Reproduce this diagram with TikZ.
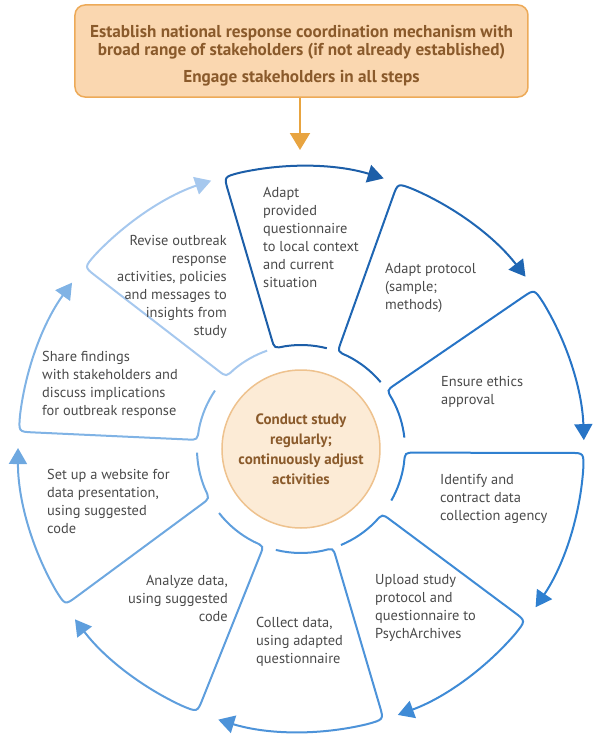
\documentclass[tikz,border=0pt]{standalone}
\usepackage{fontspec}
\setmainfont{PT Sans}
\usetikzlibrary{arrows.meta,calc}
\definecolor{c1}{HTML}{1C5EA8}
\definecolor{c2}{HTML}{1F66B3}
\definecolor{c3}{HTML}{2774C6}
\definecolor{c4}{HTML}{2F80D0}
\definecolor{c5}{HTML}{3F8BD6}
\definecolor{c6}{HTML}{4D93D9}
\definecolor{c7}{HTML}{5E9EDD}
\definecolor{c8}{HTML}{6EA8E0}
\definecolor{c9}{HTML}{80B3E5}
\definecolor{c10}{HTML}{A6C8EE}
\definecolor{textgray}{HTML}{4A4A4A}
\definecolor{brown}{HTML}{8A5A2B}
\definecolor{boxfill}{HTML}{FAD7B0}
\definecolor{boxline}{HTML}{EDAA58}
\definecolor{circfill}{HTML}{FCEBD6}
\definecolor{circline}{HTML}{EEC28E}
\definecolor{orarrow}{HTML}{E8A440}
\tikzset{
  seg/.style={line width=2pt, -{Triangle[length=16pt,width=18pt]}},
  txt/.style={font=\fontsize{14.4}{18}\selectfont, text=textgray, inner sep=0pt},
  topbox/.style={draw=boxline, line width=1.5pt, fill=boxfill, rounded corners=10pt,
    minimum width=453pt, minimum height=92pt, align=center, text=brown,
    font=\bfseries\fontsize{17.2}{18.5}\selectfont},
  centre/.style={circle, draw=circline, line width=1.5pt, fill=circfill, minimum size=158pt,
    align=center, text=brown, font=\bfseries\fontsize{15}{20}\selectfont, inner sep=0pt},
  feed/.style={draw=orarrow, line width=2pt, -{Triangle[length=17pt,width=20pt]}}
}
\begin{document}
\begin{tikzpicture}[x=1pt,y=1pt]
\useasboundingbox (-301,-291) rectangle (299,449);
\node[topbox] (top) at (0.5,398) {\rule{0pt}{21pt}Establish national response coordination mechanism with\\
broad range of stakeholders (if not already established)\\[8pt]
Engage stakeholders in all steps};
\coordinate (feedtip) at (-1,299);
\draw[feed] (top.south -| feedtip) -- (feedtip);
\node[centre] (centre) at (0,0) {Conduct study\\regularly;\\continuously adjust\\activities};
\foreach \e/\si/\so/\t/\col in {
  75.6/104.8/105.8/73/c1,
  40/69.4/70/37.5/c2,
  6.3/34.4/34.4/1.8/c3,
  -29.7/-2/-0.8/-34/c4,
  -67.4/-38.6/-37.4/-70/c5,
  -104/-72/-73/-107/c6,
  -142/-111/-111.5/-143/c7,
  -178/-151.6/-146.5/-180.2/c8,
  145.8/175/176.5/144/c9,
  109/136/140/108.5/c10}{
  \pgfmathsetmacro\ea{\si-6}
  \pgfmathsetmacro\ob{\so-3.5}
  \draw[seg,\col] (\e:104) arc[start angle=\e, end angle=\ea, radius=104]
    .. controls (\si:104) .. ($(\si:104)!10pt!(\so:283)$)
    -- ($(\so:283)!14pt!(\si:104)$)
    .. controls (\so:283) .. (\ob:283)
    arc[start angle=\ob, end angle=\t, radius=283];
}
\node[txt, anchor=north west, align=left] (s1) at (-38,262) {Adapt\\provided\\questionnaire\\to local context\\and current\\situation};
\node[txt, anchor=north west, align=left] (s2) at (84,186) {Adapt protocol\\(sample;\\methods)};
\node[txt, anchor=north west, align=left] (s3) at (140,73) {Ensure ethics\\approval};
\node[txt, anchor=north west, align=left] (s4) at (139,-25) {Identify and\\contract data\\collection agency};
\node[txt, anchor=north west, align=left] (s5) at (74,-125) {Upload study\\protocol and\\questionnaire to\\PsychArchives};
\node[txt, anchor=north west, align=left] (s6) at (-45,-168) {Collect data,\\using adapted\\questionnaire};
\node[txt, anchor=north east, align=right] (s7) at (-73,-126) {Analyze data,\\using suggested\\code};
\node[txt, anchor=north west, align=left] (s8) at (-254,-20) {Set up a website for\\data presentation,\\using suggested\\code};
\node[txt, anchor=north west, align=left] (s9) at (-259,98) {Share findings\\with stakeholders and\\discuss implications\\for outbreak response};
\node[txt, anchor=north east, align=right] (s10) at (-74,214) {Revise outbreak\\response\\activities, policies\\and messages to\\insights from\\study};
\end{tikzpicture}
\end{document}
